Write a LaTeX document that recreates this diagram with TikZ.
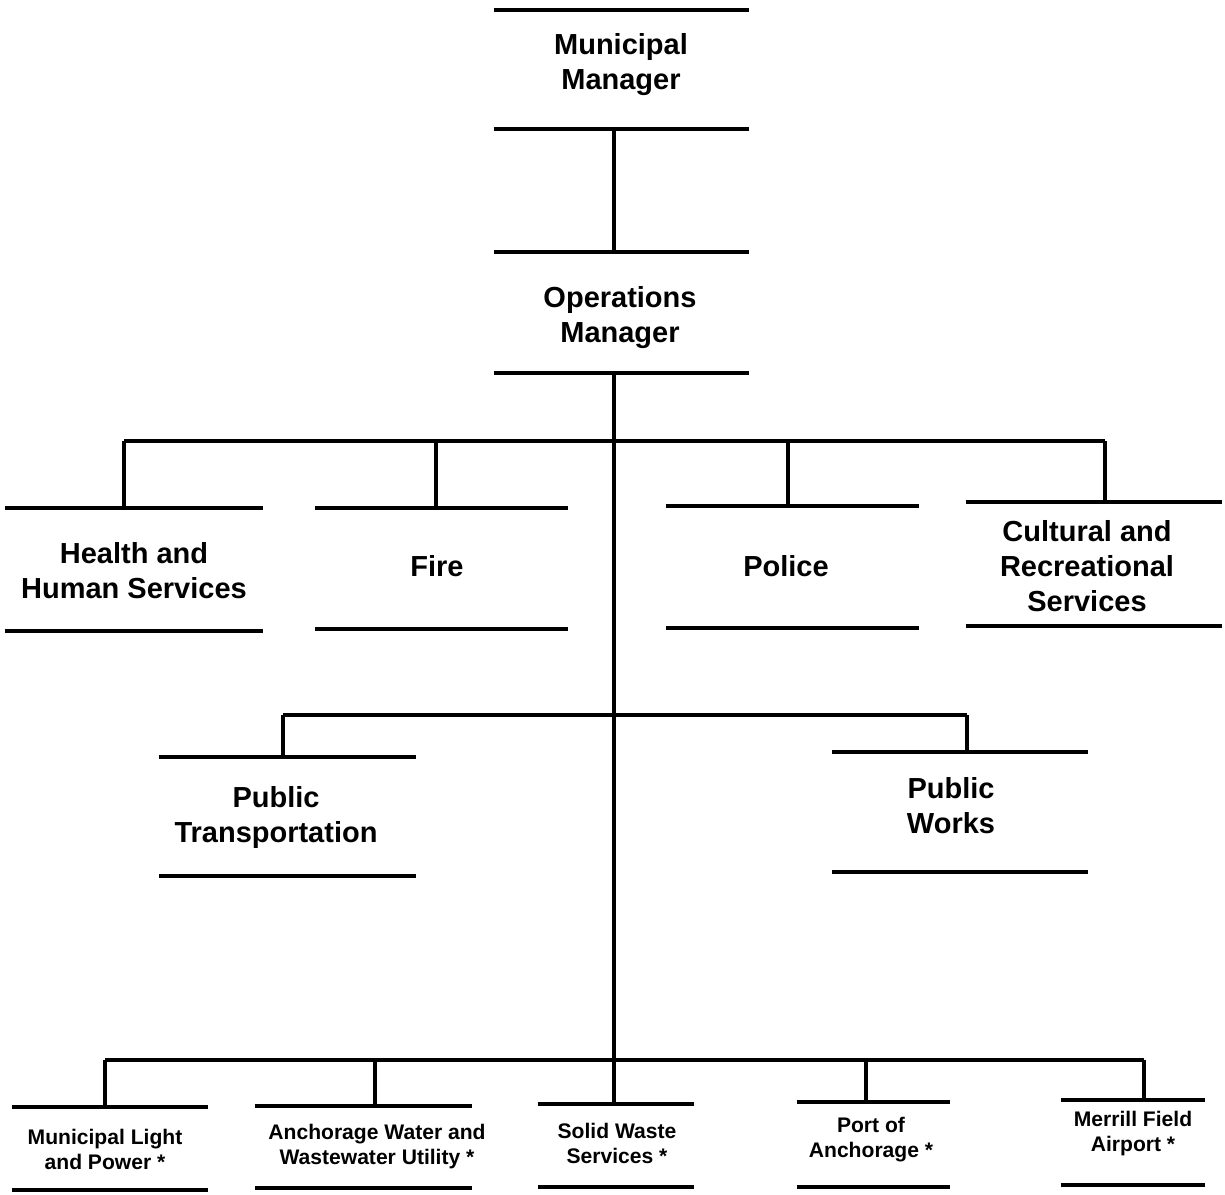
\documentclass[tikz,border=0pt]{standalone}
\usepackage{fontspec}
\setmainfont{Liberation Sans}
\begin{document}
\begin{tikzpicture}[x=0.02cm,y=-0.02cm,
  rule/.style={line width=2.3pt},
  conn/.style={line width=2.1pt},
  unit/.style n args={2}{minimum width=#1*0.02cm, minimum height=#2*0.02cm,
    inner sep=0pt, draw=none,
    append after command={(\tikzlastnode.north west) edge[rule] (\tikzlastnode.north east)
      (\tikzlastnode.south west) edge[rule] (\tikzlastnode.south east)}},
  big/.style={align=center, inner sep=0pt, font=\fontsize{16.5}{19.9}\selectfont\bfseries},
  small/.style={align=center, inner sep=0pt, font=\fontsize{12}{14.2}\selectfont\bfseries}]
\useasboundingbox (0,0) rectangle (1225,1195);

% boxes
\node[unit={255}{119}] (mm) at (621.5,69.5) {};
\node[unit={255}{121}] (om) at (621.5,312.5) {};
\node[unit={258}{123}] (hhs) at (134,569.5) {};
\node[unit={253}{121}] (fire) at (441.5,568.5) {};
\node[unit={253}{122}] (pol) at (792.5,567) {};
\node[unit={256}{124}] (cult) at (1094,564) {};
\node[unit={257}{119}] (pt) at (287.5,816.5) {};
\node[unit={256}{120}] (pw) at (960,812) {};
\node[unit={196}{83}] (mlp) at (110,1148.5) {};
\node[unit={217}{82}] (aw) at (363.5,1147) {};
\node[unit={156}{83}] (sws) at (616,1145.5) {};
\node[unit={153}{85}] (port) at (873.5,1144.5) {};
\node[unit={144}{85}] (mf) at (1133,1142.5) {};

% labels
\node[big] (mmT) at (621,64.5) {Municipal\\Manager};
\node[big] (omT) at (620,317.5) {Operations\\Manager};
\node[big] (hhsT) at (134,570.5) {Health and\\Human Services};
\node[big] (fireT) at (437,566) {Fire};
\node[big] (polT) at (786,566) {Police};
\node[big] (cultT) at (1087,566) {Cultural and\\Recreational\\Services};
\node[big] (ptT) at (276,817.5) {Public\\Transportation};
\node[big] (pwT) at (951,805.5) {Public\\Works};
\node[small] (mlpT) at (105,1149.5) {Municipal Light\\and Power *};
\node[small] (awT) at (377,1146.5) {Anchorage Water and\\Wastewater Utility *};
\node[small] (swsT) at (617,1143.5) {Solid Waste\\Services *};
\node[small] (portT) at (871,1140) {Port of\\Anchorage *};
\node[small] (mfT) at (1133,1133.5) {Merrill Field\\Airport *};

% junction coordinates
\coordinate (tx) at (614,0);
\coordinate (j1a) at (124,441);
\coordinate (j1b) at (436,441);
\coordinate (j1c) at (788,441);
\coordinate (j1d) at (1105,441);
\coordinate (j2a) at (283,715);
\coordinate (j2b) at (967,715);
\coordinate (j3a) at (105,1060);
\coordinate (j3b) at (375,1060);
\coordinate (j3d) at (866,1060);
\coordinate (j3e) at (1144,1060);

% connectors
\draw[conn] (mm.south -| tx) -- (om.north -| tx);
\draw[conn] (om.south -| tx) -- (sws.north -| tx);
\draw[conn] (j1a) -- (j1d);
\draw[conn] (j1a) -- (j1a |- hhs.north);
\draw[conn] (j1b) -- (j1b |- fire.north);
\draw[conn] (j1c) -- (j1c |- pol.north);
\draw[conn] (j1d) -- (j1d |- cult.north);
\draw[conn] (j2a) -- (j2b);
\draw[conn] (j2a) -- (j2a |- pt.north);
\draw[conn] (j2b) -- (j2b |- pw.north);
\draw[conn] (j3a) -- (j3e);
\draw[conn] (j3a) -- (j3a |- mlp.north);
\draw[conn] (j3b) -- (j3b |- aw.north);
\draw[conn] (j3d) -- (j3d |- port.north);
\draw[conn] (j3e) -- (j3e |- mf.north);
\end{tikzpicture}
\end{document}
